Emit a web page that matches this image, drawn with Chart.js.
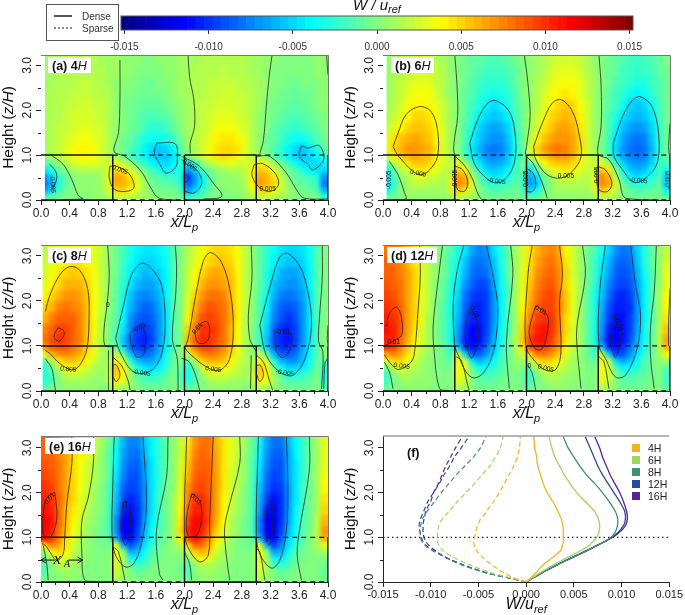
<!DOCTYPE html>
<html>
<head>
<meta charset="utf-8">
<style>
html, body { margin: 0; padding: 0; background: #fff; }
canvas { position: absolute; }
</style>
<script src="https://cdn.jsdelivr.net/npm/chart.js@4/dist/chart.umd.js"></script>
</head>
<body>
<script>
// cell grid shared by panels a-e: column centres (x/Lp) and row edges (z/H)
const colCenters = [0.05,0.15,0.25,0.35,0.45,0.55,0.65,0.75,0.85,0.95,1.05,1.15,1.25,1.35,1.45,1.55,1.65,1.75,1.85,1.95,2.05,2.15,2.25,2.35,2.45,2.55,2.65,2.75,2.85,2.95,3.05,3.15,3.25,3.35,3.45,3.55,3.65,3.75,3.85,3.95];
const rowEdges = [3.3,3,2.75,2.5,2.25,2,1.75,1.5,1.25,1.05,0.9,0.75,0.6,0.45,0.3,0.15,0];
const levelStep = 0.0005; // grids below are stored in steps of W/uref

// W/uref levels, top row first
const panelA = [
[2,2,2,3,3,3,3,3,2,2,2,1,1,1,0,0,1,1,1,2,2,2,3,3,3,3,3,3,3,2,2,1,1,0,0,0,0,0,1,1],
[2,2,3,3,3,3,3,3,3,2,2,1,1,0,0,0,0,1,1,2,2,3,3,3,3,4,3,3,3,2,2,1,0,0,0,0,0,0,1,1],
[2,2,3,3,3,4,4,3,3,2,1,1,0,0,-1,-1,0,0,1,2,2,3,3,4,4,4,4,4,3,3,2,1,0,0,-1,-1,0,0,0,1],
[2,3,3,3,4,4,4,4,3,3,1,0,0,-1,-1,-1,-1,0,1,2,2,3,3,4,4,5,5,4,4,3,2,1,0,-1,-1,-2,-1,-1,0,1],
[2,3,3,4,4,5,5,4,4,3,1,0,-1,-1,-2,-2,-2,-1,0,1,2,3,4,4,5,5,5,5,4,3,2,0,-1,-1,-2,-2,-2,-1,0,1],
[2,3,3,4,5,5,5,5,4,3,1,0,-1,-2,-3,-3,-3,-2,-1,1,2,3,4,5,6,6,6,5,4,3,1,0,-1,-2,-3,-3,-3,-2,-1,0],
[2,3,4,4,5,6,6,5,5,3,1,0,-1,-2,-4,-5,-5,-4,-2,0,2,3,4,5,7,7,7,6,5,3,1,0,-2,-3,-4,-5,-4,-3,-2,0],
[2,3,4,5,6,7,7,6,5,3,1,-1,-2,-4,-6,-7,-7,-6,-4,-1,2,3,5,6,8,9,9,8,6,3,1,-1,-2,-4,-6,-7,-7,-5,-3,-1],
[2,3,4,6,7,8,8,7,5,3,0,-1,-3,-5,-8,-10,-11,-10,-8,-2,1,3,5,7,9,10,10,9,6,3,1,-1,-3,-5,-8,-10,-11,-9,-6,-2],
[1,2,3,5,7,8,8,7,5,3,2,-1,-3,-6,-8,-10,-11,-11,-9,-4,0,2,5,7,9,10,9,8,6,3,3,0,-2,-5,-8,-10,-11,-10,-8,-5],
[-3,-1,1,3,5,6,6,6,5,5,7,4,1,-2,-5,-8,-9,-10,-8,-5,-10,-4,0,3,5,6,6,5,5,6,8,6,2,-1,-4,-7,-9,-10,-10,-8],
[-9,-6,-2,0,2,3,3,3,3,5,10,8,5,2,-1,-4,-6,-8,-7,-6,-14,-10,-3,-1,1,2,3,3,4,7,11,10,6,2,-1,-3,-6,-8,-9,-10],
[-14,-10,-5,-2,0,1,1,1,2,6,13,12,9,5,1,-2,-3,-4,-4,-6,-20,-14,-8,-3,0,1,1,2,3,8,13,12,9,4,0,-2,-3,-4,-6,-14],
[-16,-12,-6,-2,0,1,1,1,2,6,13,12,10,6,2,-1,-2,-2,-3,-5,-18,-13,-8,-3,0,1,1,1,3,8,14,12,10,5,1,-1,-2,-3,-5,-16],
[-14,-9,-4,-1,0,1,1,1,2,5,10,10,8,5,2,0,-1,-1,-1,-3,-14,-10,-5,-2,0,0,1,1,2,6,10,10,7,4,2,0,-1,-1,-3,-12],
[-4,-2,-1,0,0,0,0,1,1,3,4,4,3,3,2,1,0,0,0,-1,-5,-4,-2,-1,0,0,0,0,1,3,4,4,3,2,1,0,0,0,-1,-5]
];
const panelB = [
[1,2,2,3,4,4,4,3,2,1,0,-1,-2,-2,-3,-3,-3,-2,-1,0,1,2,3,4,5,5,5,4,3,1,0,-1,-2,-3,-4,-4,-4,-3,-2,0],
[1,2,3,4,5,5,5,4,3,1,0,-1,-2,-3,-4,-4,-4,-3,-2,0,1,2,3,5,6,6,6,5,3,2,0,-1,-2,-4,-4,-5,-4,-4,-2,-1],
[1,3,4,5,6,6,6,4,3,1,0,-1,-3,-4,-5,-5,-5,-4,-2,0,1,3,4,6,7,7,7,6,4,2,0,-1,-3,-4,-5,-6,-6,-4,-3,-1],
[1,3,4,6,7,7,7,5,3,1,0,-2,-3,-5,-6,-7,-6,-5,-3,0,1,3,5,7,8,9,8,6,4,2,0,-2,-4,-5,-7,-8,-7,-5,-3,-1],
[2,3,5,7,8,8,8,6,4,2,0,-2,-4,-6,-8,-10,-8,-6,-3,-1,1,3,6,8,10,11,10,7,5,2,0,-2,-4,-7,-10,-11,-10,-7,-4,-1],
[2,4,6,8,10,10,9,7,4,2,0,-2,-5,-8,-10,-11,-10,-8,-4,-1,2,4,7,10,11,12,11,8,5,2,0,-3,-6,-9,-11,-12,-11,-9,-4,-1],
[3,6,8,10,11,11,10,8,5,2,0,-3,-6,-10,-12,-13,-12,-10,-5,-1,2,5,9,11,13,13,12,9,5,2,0,-3,-8,-11,-13,-14,-13,-10,-5,-1],
[5,9,11,12,13,12,11,8,5,2,0,-3,-8,-11,-13,-14,-14,-11,-6,-1,3,8,11,13,14,14,13,10,5,2,0,-4,-9,-13,-15,-16,-15,-11,-5,-1],
[6,10,12,14,14,13,12,9,5,2,0,-4,-9,-12,-15,-16,-15,-12,-6,-2,5,10,13,15,16,15,13,10,5,2,-1,-4,-10,-14,-16,-17,-16,-12,-5,-1],
[4,8,11,12,13,12,11,8,5,3,2,-3,-8,-11,-14,-15,-14,-11,-6,-2,3,8,11,13,14,14,12,9,5,3,2,-3,-9,-13,-15,-16,-15,-11,-5,-2],
[-2,3,6,9,11,11,10,8,5,4,6,2,-4,-9,-12,-13,-12,-10,-5,-1,-4,2,7,10,11,11,10,8,5,5,6,2,-5,-10,-13,-14,-13,-10,-5,-3],
[-8,-2,3,5,8,9,8,6,4,3,11,8,0,-6,-10,-11,-10,-8,-4,-1,-10,-3,3,6,8,9,8,6,4,4,11,9,0,-7,-11,-12,-11,-8,-4,-7],
[-9,-4,1,3,5,6,5,4,3,5,14,12,3,-3,-7,-9,-8,-6,-3,-3,-13,-9,-1,2,4,5,5,4,3,6,15,12,3,-4,-8,-10,-8,-6,-3,-10],
[-10,-5,0,2,4,4,3,3,2,6,15,13,5,-1,-4,-6,-5,-4,-2,-4,-14,-11,-2,1,3,3,3,3,3,6,15,13,5,-1,-5,-6,-5,-4,-2,-11],
[-8,-3,0,2,2,2,2,2,2,5,11,9,4,0,-2,-3,-3,-2,-1,-3,-10,-7,-1,1,2,2,2,2,2,5,11,9,4,0,-2,-3,-3,-2,-1,-8],
[-2,-1,0,1,1,1,1,1,1,2,4,3,2,0,-1,-1,-1,-1,-1,-1,-3,-2,0,0,1,1,1,1,1,2,4,3,2,0,-1,-1,-1,-1,-1,-2]
];
const panelC = [
[3,5,6,7,8,8,7,6,4,1,-1,-4,-6,-8,-9,-9,-8,-6,-3,0,3,5,7,9,10,10,9,7,4,1,-2,-5,-7,-9,-10,-10,-9,-7,-3,0],
[4,6,7,8,9,9,8,6,4,1,-1,-4,-7,-9,-10,-10,-9,-7,-3,0,3,6,8,10,11,11,10,7,4,1,-2,-5,-8,-10,-11,-11,-10,-7,-3,0],
[5,7,9,10,11,10,9,7,4,1,-1,-5,-8,-10,-12,-11,-10,-8,-3,0,4,7,10,12,13,12,11,8,4,1,-2,-6,-9,-12,-13,-13,-11,-8,-3,0],
[6,8,10,12,12,12,10,7,4,1,-2,-5,-9,-12,-13,-13,-11,-8,-3,0,4,8,12,14,14,13,12,8,4,1,-2,-6,-11,-13,-14,-14,-12,-8,-3,0],
[8,10,12,14,14,13,11,7,4,1,-2,-6,-11,-14,-15,-14,-12,-8,-3,0,5,10,14,16,16,15,12,8,4,1,-3,-7,-12,-15,-16,-15,-13,-9,-3,0],
[10,12,15,16,15,14,11,7,4,1,-2,-7,-12,-15,-17,-16,-13,-9,-3,0,6,12,16,18,17,16,13,8,4,1,-3,-8,-14,-17,-18,-17,-14,-9,-3,0],
[12,15,17,17,17,15,11,7,3,0,-2,-8,-14,-17,-18,-17,-14,-9,-3,0,8,14,18,19,18,16,13,8,3,1,-3,-9,-15,-18,-20,-18,-14,-9,-3,0],
[15,17,19,19,17,15,11,7,3,0,-3,-9,-15,-19,-20,-18,-14,-9,-3,0,10,16,20,20,19,16,12,7,3,0,-4,-10,-17,-20,-21,-19,-14,-9,-3,1],
[16,18,20,19,17,15,11,6,3,0,-3,-11,-17,-20,-21,-19,-14,-9,-3,0,12,17,21,20,18,16,12,7,3,0,-4,-11,-18,-21,-22,-19,-14,-9,-3,1],
[14,17,18,18,16,14,10,6,3,0,-2,-9,-16,-19,-20,-17,-13,-8,-3,0,10,16,19,19,17,15,11,7,3,0,-2,-10,-17,-20,-20,-18,-13,-8,-3,0],
[6,12,14,15,14,12,9,6,3,1,4,-1,-11,-16,-17,-15,-12,-7,-2,1,4,11,15,16,15,13,10,6,3,1,4,-2,-12,-17,-18,-16,-12,-8,-3,1],
[-2,3,9,11,11,10,7,5,2,2,8,5,-5,-11,-13,-13,-10,-6,-2,0,-3,4,10,12,12,11,8,5,3,2,8,5,-6,-12,-14,-14,-11,-7,-2,-2],
[-5,-2,4,7,8,7,5,3,2,3,11,8,0,-6,-9,-10,-8,-5,-1,-2,-6,-2,5,8,9,8,6,4,2,3,11,8,-1,-7,-10,-10,-9,-6,-1,-5],
[-6,-3,1,4,5,4,3,2,1,4,11,8,2,-3,-5,-6,-5,-3,0,-3,-7,-3,2,5,5,5,4,3,2,4,11,8,2,-3,-6,-6,-5,-3,0,-6],
[-6,-3,0,2,2,2,2,1,1,3,8,6,2,-1,-3,-3,-3,-1,0,-3,-6,-3,0,2,3,3,2,2,1,3,8,6,2,-1,-3,-3,-3,-2,0,-5],
[-2,-1,0,1,1,1,1,1,0,1,3,2,1,0,-1,-1,-1,-1,0,-1,-2,-1,0,1,1,1,1,1,0,1,3,2,1,0,-1,-1,-1,-1,0,-2]
];
const panelD = [
[16,15,14,12,9,6,3,1,-1,-3,-6,-9,-13,-15,-14,-9,-6,-2,2,5,9,12,14,15,13,8,5,2,-1,-3,-7,-10,-14,-16,-15,-10,-6,-2,1,4],
[17,16,15,12,9,6,3,1,-1,-4,-7,-11,-15,-16,-15,-11,-6,-2,2,5,9,13,15,16,14,9,5,2,-1,-4,-8,-12,-16,-17,-16,-11,-6,-2,1,5],
[17,17,15,13,10,6,3,1,-1,-4,-8,-12,-16,-17,-16,-12,-7,-2,2,6,10,14,16,17,15,10,5,2,-1,-4,-9,-13,-17,-18,-17,-12,-7,-3,1,6],
[18,17,16,13,10,6,3,0,-2,-5,-9,-14,-17,-19,-18,-13,-7,-3,2,6,11,15,17,18,15,10,6,2,-1,-5,-10,-15,-18,-19,-18,-13,-8,-3,1,6],
[19,18,16,13,10,6,3,0,-2,-6,-10,-16,-19,-20,-19,-14,-8,-3,2,7,12,16,18,19,16,11,6,2,-2,-6,-11,-16,-20,-21,-19,-14,-8,-3,2,7],
[20,19,17,13,10,6,3,0,-3,-6,-11,-17,-20,-21,-19,-14,-8,-3,2,8,13,17,19,19,16,11,6,2,-2,-6,-12,-18,-21,-21,-20,-14,-8,-3,2,8],
[21,20,18,13,10,6,2,0,-3,-6,-12,-18,-21,-21,-19,-14,-8,-3,2,9,15,19,20,20,16,10,6,2,-2,-6,-13,-19,-22,-22,-19,-14,-8,-3,2,9],
[22,21,18,13,9,5,2,0,-3,-6,-13,-20,-23,-22,-19,-13,-7,-3,2,10,17,21,22,20,16,10,5,2,-2,-6,-14,-21,-23,-22,-19,-13,-7,-3,3,11],
[21,21,17,12,8,5,2,0,-3,-6,-14,-21,-23,-22,-18,-12,-7,-2,3,11,19,22,22,19,15,9,5,2,-2,-6,-15,-22,-24,-22,-18,-12,-7,-2,3,13],
[20,19,15,11,8,4,2,0,-2,-5,-10,-19,-22,-20,-16,-11,-6,-2,3,9,18,20,19,17,13,8,4,2,-2,-5,-10,-20,-22,-20,-16,-11,-6,-2,3,12],
[13,15,13,9,6,3,1,0,-1,-4,5,-10,-18,-17,-14,-9,-5,-2,2,5,10,16,16,14,11,6,3,1,-1,-4,5,-10,-19,-18,-14,-9,-5,-2,2,8],
[5,10,10,6,4,2,1,0,-1,-2,8,4,-9,-12,-10,-7,-4,-1,1,2,3,9,11,10,8,4,2,1,-1,-2,8,4,-10,-13,-11,-7,-3,-1,1,2],
[-1,4,6,4,3,2,1,0,-1,-1,7,6,-2,-7,-7,-5,-3,-1,1,0,-2,3,6,6,5,3,2,1,0,-1,7,5,-3,-8,-7,-5,-3,-1,0,-2],
[-4,0,3,3,2,1,1,0,0,0,7,5,0,-3,-4,-3,-2,-1,0,-2,-5,0,3,3,3,2,1,1,0,0,7,5,0,-4,-4,-3,-2,-1,0,-4],
[-4,-1,1,2,1,1,1,0,0,0,6,4,0,-2,-2,-2,-1,-1,0,-2,-4,-1,1,2,2,1,1,0,0,0,6,4,0,-2,-2,-2,-1,-1,0,-4],
[-2,0,0,1,1,1,0,0,0,0,3,2,0,-1,-1,-1,0,0,0,-1,-2,0,0,1,1,1,0,0,0,0,3,2,0,-1,-1,-1,-1,0,0,-2]
];
const panelE = [
[17,16,15,13,10,8,6,4,2,-1,-6,-12,-15,-15,-11,-8,-5,-2,1,4,9,14,16,16,12,9,6,4,2,-2,-7,-13,-16,-16,-12,-8,-5,-1,2,6],
[17,17,15,13,10,8,6,4,1,-2,-7,-13,-16,-16,-12,-8,-5,-2,1,4,10,15,17,16,13,9,6,4,1,-2,-8,-14,-17,-17,-13,-8,-5,-1,2,6],
[18,17,16,13,10,7,5,3,1,-2,-8,-14,-17,-17,-13,-9,-5,-2,1,5,11,16,17,17,13,9,6,3,1,-3,-9,-15,-18,-18,-13,-9,-5,-1,2,6],
[19,18,16,13,10,7,5,3,1,-2,-9,-15,-18,-18,-13,-9,-5,-2,1,5,12,17,18,17,13,9,5,3,1,-3,-10,-16,-19,-18,-13,-9,-5,-1,2,7],
[20,19,16,13,10,7,4,2,0,-3,-10,-17,-19,-18,-14,-9,-5,-1,1,6,14,18,19,17,13,9,5,3,0,-3,-11,-17,-20,-19,-14,-9,-4,-1,2,8],
[21,20,17,13,10,6,4,2,0,-3,-11,-18,-21,-19,-14,-9,-4,-1,2,7,15,20,20,18,13,8,5,2,0,-3,-12,-19,-22,-20,-14,-9,-4,-1,2,9],
[22,21,17,12,9,6,3,1,0,-3,-12,-20,-22,-20,-14,-9,-4,-1,2,8,17,21,21,18,13,8,4,2,0,-3,-13,-21,-24,-20,-14,-8,-4,-1,2,10],
[23,22,17,12,8,5,2,1,-1,-3,-14,-23,-24,-20,-13,-8,-4,-1,2,9,19,23,22,18,12,7,3,1,-1,-3,-15,-23,-25,-20,-13,-8,-3,-1,3,12],
[23,21,16,11,7,4,2,0,-1,-3,-14,-23,-24,-19,-12,-7,-3,-1,2,10,21,23,21,16,10,6,3,1,-1,-3,-15,-23,-24,-19,-12,-7,-3,0,3,14],
[22,20,15,10,6,3,1,0,-1,-2,-11,-21,-22,-18,-11,-6,-3,-1,2,8,19,22,19,14,9,5,2,0,-1,-2,-11,-21,-23,-17,-10,-6,-3,0,3,12],
[9,15,13,9,5,2,1,0,-1,-1,7,-12,-18,-15,-9,-5,-2,0,1,4,9,17,16,12,7,3,1,0,-1,-1,7,-12,-19,-15,-9,-5,-2,0,2,6],
[1,7,10,8,4,2,1,0,0,0,7,2,-12,-11,-7,-3,-1,0,1,1,3,10,12,10,5,2,1,0,0,0,7,1,-13,-12,-7,-3,-1,0,1,2],
[-2,3,6,5,3,1,1,0,0,0,6,3,-6,-8,-5,-2,-1,0,0,0,0,5,8,6,3,2,1,0,0,0,6,2,-7,-9,-5,-2,-1,0,0,0],
[-3,0,3,3,2,1,0,0,0,0,6,2,-2,-4,-3,-1,0,0,0,-1,-3,1,3,3,2,1,0,0,0,0,6,2,-3,-5,-3,-1,0,0,0,-1],
[-3,0,1,2,1,1,0,0,0,0,5,2,0,-2,-1,0,0,0,0,-1,-3,0,2,2,1,1,0,0,0,0,5,2,0,-2,-1,0,0,0,0,-2],
[-1,0,0,1,1,0,0,0,0,0,3,1,0,0,0,0,0,0,0,0,-1,0,1,1,1,0,0,0,0,0,3,1,0,-1,0,0,0,0,0,-1]
];

// contour polylines, [x/Lp, z/H]
const contoursA = [
[[0.125,1.02],[0.31,0.79],[0.43,0.45],[0.52,0.1],[0.58,0.03],[0.3,0.01]],
[[0.12,0.8],[0.2,0.65],[0.22,0.5],[0.18,0.3],[0.13,0.22]],
[[1.1,3.12],[1.1,2.23],[1.08,1.5],[1.02,1.08],[1.17,0.97],[1.38,0.67],[1.52,0.3],[1.61,0.08],[1.7,0.02],[1.93,0]],
[[0.96,0.75],[1.03,0.76],[1.22,0.6],[1.3,0.3],[1.22,0.2],[1.03,0.23],[0.95,0.49],[0.96,0.75]],
[[1.61,1.27],[1.87,1.25],[1.9,0.9],[1.87,0.71],[1.74,0.6],[1.66,0.79],[1.58,1.04],[1.61,1.27]],
[[2.05,3.23],[2.07,2.75],[2.13,2.23],[2.14,1.64],[2.08,1.27],[2.08,1.04]],
[[1.97,0.97],[2.21,0.75],[2.4,0.38],[2.52,0.08],[2.26,0.02]],
[[2,0.82],[2.17,0.67],[2.24,0.38],[2.14,0.16],[2,0.19]],
[[2,0.6],[2.06,0.47],[2,0.38]],
[[3.22,3.23],[3.18,2.75],[3.14,2.08],[3.1,1.34],[3.05,1.03]],
[[3,0.97],[3.19,0.97],[3.42,0.6],[3.56,0.23],[3.67,0.04],[4,0.02]],
[[2.97,0.79],[3.09,0.81],[3.26,0.6],[3.31,0.34],[3.19,0.19],[3.03,0.3],[2.94,0.56],[2.97,0.79]],
[[3.63,1.21],[3.72,1.16],[3.88,1.21],[3.94,0.9],[3.79,0.67],[3.72,0.79],[3.6,0.97],[3.63,1.21]],
[[3.98,3.23],[4,2.79]]
];
const contoursB = [
[[0.14,1.19],[0.21,1.49],[0.32,1.9],[0.51,2.08],[0.67,1.97],[0.76,1.56],[0.76,0.97],[0.65,0.67],[0.53,0.56],[0.41,0.65],[0.21,0.99],[0.14,1.19]],
[[1.21,1.27],[1.32,1.79],[1.46,2.16],[1.58,2.21],[1.76,1.97],[1.84,1.49],[1.84,0.9],[1.74,0.53],[1.58,0.38],[1.41,0.53],[1.27,0.82],[1.21,1.27]],
[[2.1,1.19],[2.22,1.71],[2.36,2.16],[2.49,2.23],[2.64,1.97],[2.73,1.49],[2.76,0.97],[2.64,0.64],[2.48,0.49],[2.29,0.56],[2.13,0.9],[2.1,1.19]],
[[3.21,1.27],[3.34,1.86],[3.48,2.23],[3.59,2.3],[3.75,2.08],[3.84,1.49],[3.82,0.82],[3.66,0.49],[3.5,0.39],[3.34,0.67],[3.22,0.97],[3.21,1.27]],
[[1,3.23],[1.03,2.6],[1.04,1.86],[0.99,1.27],[1,1],[1.11,0.82],[1.23,0.53],[1.34,0.08],[1.41,0],[1.97,0]],
[[1.97,3.23],[2.02,2.6],[2.05,1.86],[2,1.19],[1.99,1],[2.09,0.82],[2.22,0.38],[2.29,0.04]],
[[3.01,3.23],[3.04,2.53],[3.04,1.64],[2.99,1.12],[3.01,1],[3.15,0.9],[3.29,0.45],[3.38,0.04],[3.85,0]],
[[4,1.71],[3.98,1.19],[3.99,1]],
[[0.09,0.86],[0.21,0.56],[0.3,0.16],[0.32,0.02],[0.14,0.01]],
[[1,0.76],[1.11,0.67],[1.18,0.41],[1.14,0.2],[1.04,0.23],[1,0.5]],
[[2.99,0.75],[3.1,0.67],[3.19,0.38],[3.13,0.19],[3.01,0.23],[2.97,0.6],[2.99,0.75]],
[[1.99,0.71],[2.09,0.6],[2.13,0.34],[2.08,0.19],[1.99,0.19]]
];
const contoursC = [
[[0.06,1.76],[0.125,2.13],[0.26,2.57],[0.4,2.76],[0.54,2.68],[0.65,2.27],[0.67,1.68],[0.64,0.94],[0.54,0.57],[0.43,0.47],[0.26,0.61],[0.125,0.83],[0.06,0.9]],
[[0.24,1.4],[0.31,1.35],[0.32,1.24],[0.26,1.11],[0.19,1.16],[0.19,1.27],[0.24,1.4]],
[[1.04,1.16],[1.15,1.9],[1.26,2.57],[1.4,2.83],[1.54,2.72],[1.68,2.35],[1.73,1.61],[1.7,0.94],[1.59,0.53],[1.42,0.39],[1.26,0.46],[1.1,0.87],[1.04,1.16]],
[[1.24,1.27],[1.31,1.39],[1.4,1.47],[1.46,1.16],[1.42,0.79],[1.33,0.76],[1.26,1.01],[1.24,1.27]],
[[2,0.94],[2.05,1.16],[2.14,1.98],[2.26,2.87],[2.36,3.07],[2.51,2.87],[2.63,2.27],[2.68,1.46],[2.63,0.72],[2.49,0.46],[2.31,0.53],[2.07,0.83],[2,0.97]],
[[2.14,1.31],[2.24,1.51],[2.32,1.53],[2.35,1.31],[2.31,1.09],[2.19,1.07],[2.14,1.31]],
[[3.05,1.46],[3.21,2.42],[3.33,2.98],[3.44,3.05],[3.61,2.76],[3.72,2.2],[3.77,1.46],[3.68,0.72],[3.51,0.35],[3.33,0.42],[3.14,0.79],[3.05,1.46]],
[[3.26,1.37],[3.37,1.35],[3.49,1.27],[3.47,0.94],[3.37,0.74],[3.28,0.9],[3.26,1.37]],
[[0.93,3.24],[0.95,2.57],[0.92,1.9],[0.88,1.39],[0.89,1.01],[0.98,0.98]],
[[0.94,0.9],[0.94,0.42],[0.94,0.01]],
[[1.87,3.24],[1.89,2.79],[1.88,2.2],[1.83,1.16],[1.9,0.72],[1.91,0.01]],
[[2.93,3.24],[2.94,2.5],[2.89,1.68],[2.91,1.16],[2.96,0.98],[3,0.87]],
[[2.93,0.79],[2.92,0.05]],
[[3.92,3.24],[3.92,2.5],[3.88,1.61],[3.87,1.09],[3.93,0.87],[3.91,0.05]],
[[0.06,0.72],[0.15,0.5],[0.19,0.13],[0.2,0.02]],
[[1.96,0.73],[2.07,0.64],[2.17,0.27],[2.21,0.01]],
[[4,0.72],[3.96,0.64],[3.94,0.05]],
[[1,0.57],[1.05,0.58],[1.1,0.35],[1.05,0.21],[1.01,0.3]],
[[3.01,0.57],[3.06,0.57],[3.1,0.35],[3.05,0.21],[3,0.4]],
[[1,0.75],[1.12,0.57],[1.22,0.2],[1.24,0.02]],
[[3,0.8],[3.1,0.64],[3.19,0.2],[3.23,0.01]],
[[4,1.46],[3.99,1.16],[4,1]]
];
const contoursD = [
[[0.51,3.24],[0.52,2.57],[0.49,1.83],[0.44,0.87],[0.39,0.64],[0.21,0.48],[0.09,0.64],[0.02,0.81]],
[[0.05,1.42],[0.09,1.72],[0.19,1.86],[0.26,1.61],[0.26,1.24],[0.16,1.13],[0.02,1]],
[[1.13,3.24],[1.04,2.72],[0.98,1.98],[1,1.01],[1.04,0.83],[1.16,0.42],[1.27,0.29],[1.41,0.42],[1.55,0.94],[1.6,1.83],[1.55,2.42],[1.44,3.24]],
[[1.2,1.79],[1.32,1.53],[1.32,1.09],[1.23,0.73],[1.15,1.16],[1.16,1.53],[1.2,1.79]],
[[2.08,3.24],[2.02,2.57],[1.99,1.01],[2.13,0.64],[2.27,0.46],[2.41,0.48],[2.48,0.87],[2.46,1.98],[2.5,2.57],[2.46,3.24]],
[[2.13,1.9],[2.29,1.68],[2.29,1.31],[2.22,0.94],[2.13,0.93],[2.04,1.24],[2.06,1.53],[2.13,1.9]],
[[3.1,3.24],[3.02,2.2],[3.01,1.01],[3.1,0.72],[3.24,0.31],[3.38,0.35],[3.54,0.94],[3.59,1.68],[3.52,2.35],[3.45,3.24]],
[[3.24,1.72],[3.31,1.31],[3.31,1.09],[3.24,0.76],[3.17,1.09],[3.2,1.46],[3.24,1.72]],
[[0.83,3.24],[0.76,2.35],[0.7,1.46],[0.71,0.94],[0.79,0.05],[0.92,0.01]],
[[1.78,3.24],[1.81,2.57],[1.72,1.09],[1.76,0.05]],
[[2.78,3.24],[2.82,2.57],[2.71,1.53],[2.7,1.09],[2.76,0.05]],
[[3.81,3.24],[3.78,2.2],[3.73,1.46],[3.73,0.72],[3.78,0.05]],
[[4,2.27],[3.98,1.46],[3.98,1]],
[[0.02,0.64],[0.09,0.42],[0.14,0.05]],
[[1.02,0.76],[1.09,0.68],[1.18,0.13],[1.2,0.02]],
[[3.01,0.76],[3.08,0.64],[3.15,0.05]],
[[2.02,0.57],[2.08,0.39],[2.13,0.01]]
];
const contoursE = [
[[0.43,3.26],[0.43,2.65],[0.36,1.75],[0.33,1],[0.31,0.63],[0.22,0.48],[0.125,0.67],[0.06,0.82],[0.01,0.86]],
[[0.19,2.01],[0.22,1.6],[0.21,1.31],[0.125,1],[0.03,1.08],[0.03,1.49],[0.08,1.87],[0.19,2.01]],
[[1.02,3.26],[1,2.13],[0.99,1.08],[1.03,0.63],[1.17,0.34],[1.29,0.41],[1.4,0.86],[1.47,1.75],[1.42,3.26]],
[[1.17,1.85],[1.24,1.68],[1.24,1.23],[1.18,0.82],[1.12,1.08],[1.12,1.53],[1.17,1.85]],
[[2.03,3.26],[2,1.08],[2.07,0.71],[2.21,0.45],[2.33,0.6],[2.35,1.38],[2.4,3.26]],
[[2.1,1.98],[2.21,1.83],[2.24,1.46],[2.17,1.04],[2.05,1.04],[2.03,1.46],[2.1,1.98]],
[[3.03,3.26],[3,1.08],[3.05,0.63],[3.21,0.31],[3.33,0.49],[3.42,1.16],[3.44,2.13],[3.42,3.26]],
[[3.2,1.83],[3.23,1.68],[3.23,1.23],[3.18,0.82],[3.13,1.08],[3.14,1.53],[3.2,1.83]],
[[0.73,3.26],[0.73,2.65],[0.66,1.9],[0.57,1.38],[0.57,0.63],[0.61,0.04],[0.77,0.01]],
[[1.77,3.26],[1.75,2.35],[1.61,1.16],[1.65,0.19],[1.7,0.04]],
[[2.77,3.26],[2.77,2.65],[2.63,1.75],[2.56,1.23],[2.58,0.63],[2.63,0.04]],
[[3.74,3.26],[3.74,2.5],[3.61,1.23],[3.57,0.63],[3.63,0.04]],
[[0.03,0.82],[0.08,0.41],[0.1,0.04]],
[[1.01,0.78],[1.08,0.67],[1.17,0.04]],
[[3,0.75],[3.05,0.67],[3.12,0.04]],
[[2,0.67],[2.07,0.41],[2.1,0.04]]
];

// inline contour labels: text, x/Lp, z/H, rotation in degrees
const labelsA = [['-0.005',0.16,0.36,85],['0.005',1.1,0.67,20],['-0.005',2.06,0.79,35],['0.005',3.16,0.24,0]];
const labelsB = [['0.005',0.49,0.59,10],['-0.005',1.58,0.42,8],['0.005',2.55,0.53,0],['-0.005',3.56,0.43,5],['-0.005',0.09,0.45,-90],['0.005',1,0.49,-90],['-0.005',2,0.45,-90],['0.005',2.99,0.56,-90],['-0.005',3.98,0.45,-90]];
const labelsC = [['0.005',0.38,0.48,5],['-0.005',1.4,0.4,8],['0.005',2.4,0.48,8],['-0.005',3.4,0.4,8],['-0.01',1.37,1.4,-30],['0.01',2.18,1.39,-50],['-0.01',3.37,1.3,0],['0',0.93,1.9,0]];
const labelsD = [['0.005',0.26,0.55,8],['0.01',0.15,1.09,0],['-0.01',1.27,1.77,60],['0.01',2.2,1.79,30],['-0.01',3.28,1.48,70],['0.005',2.27,0.5,15],['0',2.04,0.55,0]];
const labelsE = [['0.01',0.12,1.87,-50],['-0.01',1.17,1.64,-90],['0.01',2.16,1.85,45],['-0.01',3.14,1.46,-90]];

// canopy outline, dense patches solid and sparse patches dashed
const canopySolid = [[[0,1],[1,1]],[[2,1],[3,1]],[[1,1],[1,0]],[[2,1],[2,0]],[[3,1],[3,0]],[[4,1],[4,0]],[[0,0],[1,0]],[[2,0],[3,0]]];
const canopyDashed = [[[1,1],[2,1]],[[3,1],[4,1]],[[1,0],[2,0]],[[3,0],[4,0]]];

// panel f profiles
const profileHeights = [0,0.1,0.2,0.3,0.4,0.5,0.6,0.7,0.8,0.9,1,1.1,1.2,1.3,1.4,1.5,1.6,1.8,2,2.2,2.4,2.6,2.8,3,3.25];
const seriesNames = ['4H','6H','8H','12H','16H'];
const denseW4 = [0,0.0005,0.001,0.0014,0.0019,0.0025,0.0031,0.0036,0.0038,0.0039,0.0039,0.0039,0.0039,0.0038,0.0037,0.0035,0.0033,0.0028,0.0022,0.0018,0.0015,0.0012,0.0011,0.0009,0.0008];
const denseW6 = [0,0.0007,0.0014,0.0022,0.003,0.0039,0.0048,0.0057,0.0065,0.007,0.0074,0.0076,0.0077,0.0077,0.0076,0.0074,0.0071,0.0062,0.0053,0.0046,0.004,0.0035,0.003,0.0027,0.0024];
const denseW8 = [0,0.0008,0.0016,0.0025,0.0034,0.0044,0.0054,0.0064,0.0073,0.0082,0.0089,0.0093,0.0095,0.0096,0.0096,0.0095,0.0093,0.0087,0.008,0.0072,0.0063,0.0056,0.005,0.0044,0.0039];
const denseW12 = [0,0.0008,0.0016,0.0025,0.0034,0.0044,0.0054,0.0064,0.0073,0.0082,0.009,0.0096,0.01,0.0103,0.0104,0.0104,0.0103,0.0098,0.0092,0.0086,0.008,0.0075,0.0071,0.0067,0.0062];
const denseW16 = [0,0.0008,0.0016,0.0025,0.0034,0.0043,0.0053,0.0063,0.0072,0.0082,0.0091,0.0097,0.0102,0.0105,0.0106,0.0106,0.0105,0.0102,0.0098,0.0093,0.0088,0.0084,0.008,0.0077,0.0072];
const sparseW4 = [0,-0.0014,-0.0023,-0.003,-0.0037,-0.0043,-0.0048,-0.0052,-0.0054,-0.0055,-0.0054,-0.0053,-0.0052,-0.005,-0.0048,-0.0044,-0.0041,-0.0034,-0.0028,-0.0023,-0.0018,-0.0013,-0.0009,-0.0007,-0.0006];
const sparseW6 = [0,-0.0018,-0.0036,-0.0049,-0.0061,-0.0071,-0.008,-0.0087,-0.0091,-0.0093,-0.0093,-0.0093,-0.0092,-0.0091,-0.0088,-0.0084,-0.008,-0.0072,-0.0063,-0.0054,-0.0046,-0.0038,-0.0032,-0.0027,-0.0024];
const sparseW8 = [0,-0.002,-0.0041,-0.0056,-0.0069,-0.008,-0.0089,-0.0098,-0.0105,-0.0109,-0.0111,-0.0111,-0.0111,-0.011,-0.0109,-0.0106,-0.0103,-0.0096,-0.0089,-0.0081,-0.0073,-0.0064,-0.0055,-0.0048,-0.0042];
const sparseW12 = [0,-0.002,-0.0041,-0.0056,-0.0069,-0.008,-0.0089,-0.0097,-0.0104,-0.0108,-0.011,-0.0111,-0.0112,-0.0112,-0.0111,-0.0109,-0.0107,-0.0103,-0.0097,-0.0091,-0.0086,-0.008,-0.0075,-0.0068,-0.006];
const sparseW16 = [0,-0.002,-0.004,-0.0055,-0.0068,-0.0079,-0.0088,-0.0095,-0.0101,-0.0105,-0.0107,-0.0108,-0.0108,-0.0108,-0.0107,-0.0106,-0.0105,-0.01,-0.0097,-0.0092,-0.0088,-0.0084,-0.0079,-0.0074,-0.0067];
const seriesColors = ['#f4b223','#a5d35c','#3f8f78','#2a4b9b','#57239a'];

// colour bar bins
const colorbarLevels = [-30,-29,-28,-27,-26,-25,-24,-23,-22,-21,-20,-19,-18,-17,-16,-15,-14,-13,-12,-11,-10,-9,-8,-7,-6,-5,-4,-3,-2,-1,0,1,2,3,4,5,6,7,8,9,10,11,12,13,14,15,16,17,18,19,20,21,22,23,24,25,26,27,28,29,30];

const FONT = '"Liberation Sans", Arial, sans-serif';
const SERIF = '"Liberation Serif", serif';
Chart.defaults.font.family = FONT;
Chart.defaults.animation = false;

// jet palette over the colour bar range
function jet(value) {
    const f = (value + 0.0152) / 0.0304;
    const stops = [[0,0,0,127],[0.125,0,0,255],[0.375,0,255,255],[0.625,255,255,0],[0.875,255,0,0],[1,127,0,0]];
    for (let i = 1; i < stops.length; i++) {
        if (f <= stops[i][0]) {
            const a = stops[i - 1], b = stops[i];
            const t = Math.max(0, (f - a[0]) / (b[0] - a[0]));
            return 'rgb(' + [1, 2, 3].map(k => Math.round(a[k] + (b[k] - a[k]) * t)).join(',') + ')';
        }
    }
    return 'rgb(127,0,0)';
}

function addCanvas(left, top, w, h) {
    const c = document.createElement('canvas');
    c.width = w;
    c.height = h;
    c.style.left = left + 'px';
    c.style.top = top + 'px';
    c.style.width = w + 'px';
    c.style.height = h + 'px';
    document.body.appendChild(c);
    return c;
}

// draw text pieces with different fonts one after the other, centred on x
function drawRuns(ctx, runs, x, y, alignLeft) {
    let total = 0;
    runs.forEach(r => { ctx.font = r.font; total += ctx.measureText(r.text).width + (r.gap || 0); });
    let cx = alignLeft ? x : x - total / 2;
    ctx.textAlign = 'left';
    ctx.textBaseline = 'alphabetic';
    runs.forEach(r => {
        ctx.font = r.font;
        ctx.fillText(r.text, cx, y + (r.dy || 0));
        cx += ctx.measureText(r.text).width + (r.gap || 0);
    });
}

const xTitle = [
    {text: 'x/L', font: 'italic 16px ' + FONT},
    {text: 'p', font: 'italic 11px ' + FONT, dy: 4}
];
const wTitle = [
    {text: 'W/u', font: 'italic 16px ' + FONT},
    {text: 'ref', font: 'italic 11px ' + FONT, dy: 4}
];
const heightTitle = [
    {text: 'Height (', font: '15.5px ' + FONT},
    {text: 'z/H', font: 'italic 15.5px ' + FONT},
    {text: ')', font: '15.5px ' + FONT}
];

const plotPadTop = 8, plotPadRight = 14, axisW = 41, axisH = 34;

function axisOptions(xMin, xMax, xStep, xDigits, yMax, xFont) {
    return {
        x: {
            type: 'linear', min: xMin, max: xMax, offset: false,
            afterFit: s => { s.height = axisH; },
            grid: {offset: false, drawOnChartArea: false, tickLength: 5, color: '#222'},
            border: {color: '#222'},
            ticks: {
                stepSize: xStep, autoSkip: false, maxRotation: 0, includeBounds: false, padding: 1,
                color: '#222', font: {size: xFont},
                callback: v => (Math.abs(v) < 1e-9 ? 0 : v).toFixed(xDigits)
            }
        },
        y: {
            type: 'linear', min: 0, max: yMax,
            afterFit: s => { s.width = axisW; },
            grid: {drawOnChartArea: false, tickLength: 5, color: '#222'},
            border: {color: '#222'},
            ticks: {
                stepSize: 1, autoSkip: false, includeBounds: false, minRotation: 90, maxRotation: 90,
                crossAlign: 'center', padding: 0,
                color: '#222', font: {size: 12},
                callback: v => v.toFixed(1)
            }
        }
    };
}

function minorTicks(chart, xs, ys) {
    const ctx = chart.ctx, a = chart.chartArea;
    ctx.save();
    ctx.strokeStyle = '#222';
    ctx.lineWidth = 1;
    ctx.beginPath();
    xs.forEach(v => { const p = Math.round(chart.scales.x.getPixelForValue(v)) + 0.5; ctx.moveTo(p, a.bottom); ctx.lineTo(p, a.bottom + 3); });
    ys.forEach(v => { const p = Math.round(chart.scales.y.getPixelForValue(v)) + 0.5; ctx.moveTo(a.left, p); ctx.lineTo(a.left - 3, p); });
    ctx.stroke();
    ctx.restore();
}

function axisTitles(chart, runs) {
    const ctx = chart.ctx, a = chart.chartArea;
    ctx.save();
    ctx.fillStyle = '#111';
    drawRuns(ctx, runs, (a.left + a.right) / 2, a.bottom + 27);
    ctx.translate(a.left - 28, (a.top + a.bottom) / 2);
    ctx.rotate(-Math.PI / 2);
    drawRuns(ctx, heightTitle, 0, 0);
    ctx.restore();
}

// soften the finished cell field the way the resampled original looks
function softenField(chart, radius) {
    const a = chart.chartArea, ctx = chart.ctx;
    const w = Math.ceil(a.right - a.left), h = Math.ceil(a.bottom - a.top);
    const copy = document.createElement('canvas');
    copy.width = w;
    copy.height = h;
    copy.getContext('2d').drawImage(chart.canvas, a.left, a.top, w, h, 0, 0, w, h);
    ctx.save();
    ctx.beginPath();
    ctx.rect(a.left, a.top, w, h);
    ctx.clip();
    ctx.filter = 'blur(' + radius + 'px)';
    ctx.drawImage(copy, a.left, a.top);
    ctx.restore();
}

function heatPanel(p) {
    const w = 287 + axisW + plotPadRight, h = (p.bottom - p.top) + plotPadTop + axisH;
    const canvas = addCanvas(p.left - axisW, p.top - plotPadTop, w, h);
    const datasets = [];
    p.grid.forEach((row, r) => {
        datasets.push({
            type: 'bar', order: 1, grouped: false, categoryPercentage: 1, barPercentage: 1, borderWidth: 0,
            data: row.map((level, c) => ({x: colCenters[c], y: [rowEdges[r + 1], rowEdges[r]]})),
            backgroundColor: row.map(level => jet(level * levelStep))
        });
    });
    p.contours.forEach(line => {
        datasets.push({
            type: 'line', order: 0, tension: 0.35, borderColor: '#262626', borderWidth: 0.8, pointRadius: 0, fill: false,
            data: line.map(q => ({x: q[0], y: q[1]}))
        });
    });
    canopySolid.forEach(seg => {
        datasets.push({
            type: 'line', order: 0, borderColor: '#111', borderWidth: 1.5, pointRadius: 0, clip: false,
            data: seg.map(q => ({x: q[0], y: q[1]}))
        });
    });
    canopyDashed.forEach(seg => {
        datasets.push({
            type: 'line', order: 0, borderColor: '#111', borderWidth: 1.3, borderDash: [5, 4], pointRadius: 0, clip: false,
            data: seg.map(q => ({x: q[0], y: q[1]}))
        });
    });
    const deco = {
        id: 'deco',
        afterDatasetDraw(chart, args) {
            if (args.index !== 0) return;
            softenField(chart, 2.2);
            // the colour field starts a little right of the axis
            if (!p.strip) return;
            const a = chart.chartArea;
            chart.ctx.fillStyle = '#fff';
            chart.ctx.fillRect(a.left, a.top, chart.scales.x.getPixelForValue(p.strip) - a.left, a.bottom - a.top);
        },
        afterDraw(chart) {
            const ctx = chart.ctx, a = chart.chartArea;
            ctx.save();
            ctx.strokeStyle = '#777';
            ctx.lineWidth = 1;
            ctx.beginPath();
            ctx.moveTo(a.left, a.top + 0.5);
            ctx.lineTo(a.right + 0.5, a.top + 0.5);
            ctx.lineTo(a.right + 0.5, a.bottom);
            ctx.stroke();
            ctx.fillStyle = '#111';
            ctx.font = '6.5px ' + FONT;
            ctx.textAlign = 'center';
            ctx.textBaseline = 'middle';
            p.labels.forEach(l => {
                ctx.save();
                ctx.translate(chart.scales.x.getPixelForValue(l[1]), chart.scales.y.getPixelForValue(l[2]));
                ctx.rotate(l[3] * Math.PI / 180);
                ctx.fillText(l[0], 0, 0);
                ctx.restore();
            });
            ctx.fillStyle = '#fff';
            ctx.fillRect(a.left + p.tagDx, a.top + 2, p.tagW, 16);
            ctx.fillStyle = '#111';
            drawRuns(ctx, [
                {text: p.tag, font: 'bold 12.5px ' + FONT},
                {text: 'H', font: 'italic 12.5px ' + FONT}
            ], a.left + p.tagDx + 4, a.top + 15, true);
            if (p.arrow) drawArrow(chart);
            ctx.restore();
            minorTicks(chart, [0.2,0.6,1,1.4,1.8,2.2,2.6,3,3.4,3.8], [0.5,1.5,2.5]);
            axisTitles(chart, xTitle);
        }
    };
    new Chart(canvas, {
        type: 'bar',
        data: {datasets},
        plugins: [deco],
        options: {
            responsive: false,
            layout: {autoPadding: false, padding: {top: plotPadTop, right: plotPadRight, left: 0, bottom: 0}},
            plugins: {legend: {display: false}, tooltip: {enabled: false}},
            scales: axisOptions(0, 4, 0.4, 1, p.yMax, 12)
        }
    });
}

// panel e: x_A span marker
function drawArrow(chart) {
    const ctx = chart.ctx, sx = chart.scales.x, sy = chart.scales.y;
    const x0 = sx.getPixelForValue(0), x1 = sx.getPixelForValue(0.58), y = sy.getPixelForValue(0.49);
    ctx.strokeStyle = '#111';
    ctx.lineWidth = 1;
    ctx.beginPath();
    ctx.moveTo(x0, y); ctx.lineTo(x0 + 14, y);
    ctx.moveTo(x0 + 5, y - 3); ctx.lineTo(x0, y); ctx.lineTo(x0 + 5, y + 3);
    ctx.moveTo(x1 - 14, y); ctx.lineTo(x1, y);
    ctx.moveTo(x1 - 5, y - 3); ctx.lineTo(x1, y); ctx.lineTo(x1 - 5, y + 3);
    ctx.stroke();
    ctx.fillStyle = '#111';
    drawRuns(ctx, [
        {text: 'x', font: 'italic 17px ' + SERIF, gap: 3},
        {text: 'A', font: 'italic 10px ' + SERIF, dy: 3}
    ], (x0 + x1) / 2, y + 4);
}

heatPanel({grid: panelA, contours: contoursA, labels: labelsA, left: 41, top: 55, bottom: 200, yMax: 3.23, tag: '(a) 4', tagDx: 7, tagW: 43, strip: 0.055});
heatPanel({grid: panelB, contours: contoursB, labels: labelsB, left: 383, top: 55, bottom: 200, yMax: 3.23, tag: '(b) 6', tagDx: 8, tagW: 43, strip: 0.05});
heatPanel({grid: panelC, contours: contoursC, labels: labelsC, left: 41, top: 245, bottom: 391, yMax: 3.24, tag: '(c) 8', tagDx: 7, tagW: 43, strip: 0.023});
heatPanel({grid: panelD, contours: contoursD, labels: labelsD, left: 383, top: 245, bottom: 391, yMax: 3.24, tag: '(d) 12', tagDx: 4, tagW: 50, strip: 0.014});
heatPanel({grid: panelE, contours: contoursE, labels: labelsE, left: 41, top: 436, bottom: 582, yMax: 3.265, tag: '(e) 16', tagDx: 4, tagW: 50, strip: 0, arrow: true});

// panel f
const denseSeries = [denseW4, denseW6, denseW8, denseW12, denseW16];
const sparseSeries = [sparseW4, sparseW6, sparseW8, sparseW12, sparseW16];
const fDatasets = [];
seriesNames.forEach((name, i) => {
    fDatasets.push({label: name, borderColor: seriesColors[i], borderWidth: 1.3, pointRadius: 0, tension: 0.3,
        data: denseSeries[i].map((v, k) => ({x: v, y: profileHeights[k]}))});
    fDatasets.push({label: name + ' sparse', borderColor: seriesColors[i], borderWidth: 1.2, borderDash: [5, 3], pointRadius: 0, tension: 0.3,
        data: sparseSeries[i].map((v, k) => ({x: v, y: profileHeights[k]}))});
});
fDatasets.push({label: 'canopy top', borderColor: '#222', borderWidth: 1.3, borderDash: [1.5, 3], pointRadius: 0,
    data: [{x: -0.015, y: 1}, {x: 0.015, y: 1}]});

const fDeco = {
    id: 'fdeco',
    afterDraw(chart) {
        const ctx = chart.ctx, a = chart.chartArea;
        ctx.save();
        ctx.strokeStyle = '#9a9a9a';
        ctx.lineWidth = 1.5;
        ctx.beginPath();
        ctx.moveTo(a.left, a.top);
        ctx.lineTo(a.right, a.top);
        ctx.stroke();
        ctx.fillStyle = '#111';
        ctx.font = 'bold 12.5px ' + FONT;
        ctx.textAlign = 'left';
        ctx.textBaseline = 'alphabetic';
        ctx.fillText('(f)', a.left + 24, a.top + 21);
        ctx.font = '10.5px ' + FONT;
        seriesNames.forEach((name, i) => {
            const y = a.top + 12 + i * 12;
            ctx.fillStyle = seriesColors[i];
            ctx.fillRect(a.left + 249, y - 4, 8, 8);
            ctx.fillStyle = '#222';
            ctx.fillText(name, a.left + 265, y + 3.5);
        });
        ctx.restore();
        minorTicks(chart, [], [0.5,1.5,2.5]);
        axisTitles(chart, wTitle);
    }
};
new Chart(addCanvas(383 - axisW, 436 - plotPadTop, 287 + axisW + plotPadRight, 146 + plotPadTop + axisH), {
    type: 'line',
    data: {datasets: fDatasets},
    plugins: [fDeco],
    options: {
        responsive: false,
        layout: {autoPadding: false, padding: {top: plotPadTop, right: plotPadRight, left: 0, bottom: 0}},
        plugins: {legend: {display: false}, tooltip: {enabled: false}},
        scales: axisOptions(-0.015, 0.015, 0.005, 3, 3.265, 11)
    }
});

// colour bar and line style key along the top
const barDeco = {
    id: 'bardeco',
    afterDraw(chart) {
        const ctx = chart.ctx, a = chart.chartArea;
        ctx.save();
        ctx.strokeStyle = '#555';
        ctx.lineWidth = 1;
        ctx.strokeRect(a.left, a.top, a.right - a.left, a.bottom - a.top);
        ctx.strokeRect(46.5, 4.5, 72, 36);
        ctx.strokeStyle = '#111';
        ctx.lineWidth = 1.4;
        ctx.beginPath();
        ctx.moveTo(54, 16); ctx.lineTo(72, 16);
        ctx.stroke();
        ctx.lineWidth = 1;
        ctx.setLineDash([2, 2]);
        ctx.beginPath();
        ctx.moveTo(54, 28); ctx.lineTo(72, 28);
        ctx.stroke();
        ctx.setLineDash([]);
        ctx.fillStyle = '#333';
        ctx.font = '10px ' + FONT;
        ctx.textAlign = 'left';
        ctx.textBaseline = 'alphabetic';
        ctx.fillText('Dense', 82, 20);
        ctx.fillText('Sparse', 82, 32);
        ctx.fillStyle = '#111';
        drawRuns(ctx, [
            {text: 'W / u', font: 'italic 15px ' + FONT},
            {text: 'ref', font: 'italic 11px ' + FONT, dy: 3}
        ], 377, 10);
        ctx.restore();
    }
};
new Chart(addCanvas(0, 0, 685, 56), {
    type: 'bar',
    data: {datasets: [{
        categoryPercentage: 1, barPercentage: 1, borderWidth: 0,
        data: colorbarLevels.map(l => ({x: l * levelStep, y: 1})),
        backgroundColor: colorbarLevels.map(l => jet(l * levelStep))
    }]},
    plugins: [barDeco],
    options: {
        responsive: false,
        layout: {autoPadding: false, padding: {top: 16, left: 121, right: 52, bottom: 0}},
        plugins: {legend: {display: false}, tooltip: {enabled: false}},
        scales: {
            x: {
                type: 'linear', min: -0.0152, max: 0.0152, offset: false,
                afterFit: s => { s.height = 26; },
                grid: {offset: false, drawOnChartArea: false, tickLength: 4, color: '#333'},
                border: {display: false},
                ticks: {
                    stepSize: 0.005, autoSkip: false, maxRotation: 0, includeBounds: false, padding: 7,
                    color: '#333', font: {size: 10},
                    callback: v => (Math.abs(v) < 1e-9 ? 0 : v).toFixed(3)
                }
            },
            y: {display: false, min: 0, max: 1}
        }
    }
});
</script>
</body>
</html>
